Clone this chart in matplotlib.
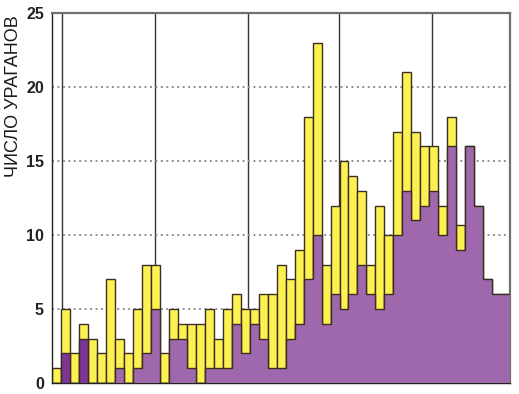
import matplotlib
matplotlib.use("Agg")
import matplotlib.pyplot as plt
import numpy as np

plt.rcParams['font.family'] = ['Liberation Sans', 'DejaVu Sans']

# total number of hurricanes per bar (yellow) and subset (purple)
total = [1, 5, 2, 4, 3, 2, 7, 3, 2, 5, 8, 8, 2, 5, 4, 4, 4, 5, 3, 5,
         6, 5, 5, 6, 6, 8, 7, 9, 18, 23, 8, 12, 15, 14, 13, 8, 12, 10, 17, 21,
         17, 16, 16, 12, 18, 10.7, 16, 12, 7, 6, 6]
subset = [0, 2, 0, 3, 0, 0, 0, 1, 0, 1, 2, 5, 0, 3, 3, 1, 0, 1, 1, 1,
          4, 2, 4, 3, 1, 1, 3, 4, 7, 10, 4, 6, 5, 6, 8, 6, 5, 6, 10, 13,
          11, 12, 13, 10, 16, 9, 16, 12, 7, 6, 6]
dark_bars = [1, 3]
vlines_x = [0.55, 10.95, 21.25, 31.45, 41.85]
yticks = [0, 5, 10, 15, 20, 25]
ylabel = "ЧИСЛО УРАГАНОВ"

YELLOW = "#FDF152"
PURPLE = "#A068AC"
DPURPLE = "#7E3596"
EDGE = "#3A2E22"

fig = plt.figure(figsize=(5.19, 3.94), dpi=100)
ax = fig.add_axes([0.1008, 0.0279, 0.8819, 0.9383])

n = len(total)
x = np.arange(n)
ax.bar(x, total, width=1.0, color=YELLOW, edgecolor=EDGE, linewidth=1.0, zorder=2)
edges = np.arange(n + 1) - 0.5
ax.stairs(subset, edges, fill=True, color=PURPLE, zorder=3)
for i in dark_bars:
    ax.bar(i, subset[i], width=1.0, color=DPURPLE, edgecolor="none", zorder=3.5)
ax.stairs(subset, edges, fill=False, color=EDGE, linewidth=1.0, baseline=None, zorder=4)

for xv in vlines_x:
    ax.axvline(xv, color="#333333", linewidth=1.0, zorder=1)
for yv in yticks[1:-1]:
    ax.axhline(yv, color="#8f8f8f", linewidth=1.4, linestyle=(0, (1.0, 1.8)), zorder=1)

ax.set_xlim(-0.5, n - 0.5)
ax.set_ylim(0, 25)
ax.set_yticks(yticks)
ax.set_yticklabels([str(v) for v in yticks], fontsize=11.5, fontweight='bold')
ax.set_xticks([])
ax.tick_params(axis='y', length=0, pad=6, colors="#222222")
for s in ['left', 'bottom']:
    ax.spines[s].set_color("#222222")
    ax.spines[s].set_linewidth(1.0)
for s in ['top', 'right']:
    ax.spines[s].set_color("#707070")
    ax.spines[s].set_linewidth(1.6)

fig.text(13.5 / 519, 1 - 15 / 394, ylabel, rotation=90, ha='center', va='top',
         fontsize=13, color="#1a1a1a")

fig.savefig("out.png", dpi=100)
